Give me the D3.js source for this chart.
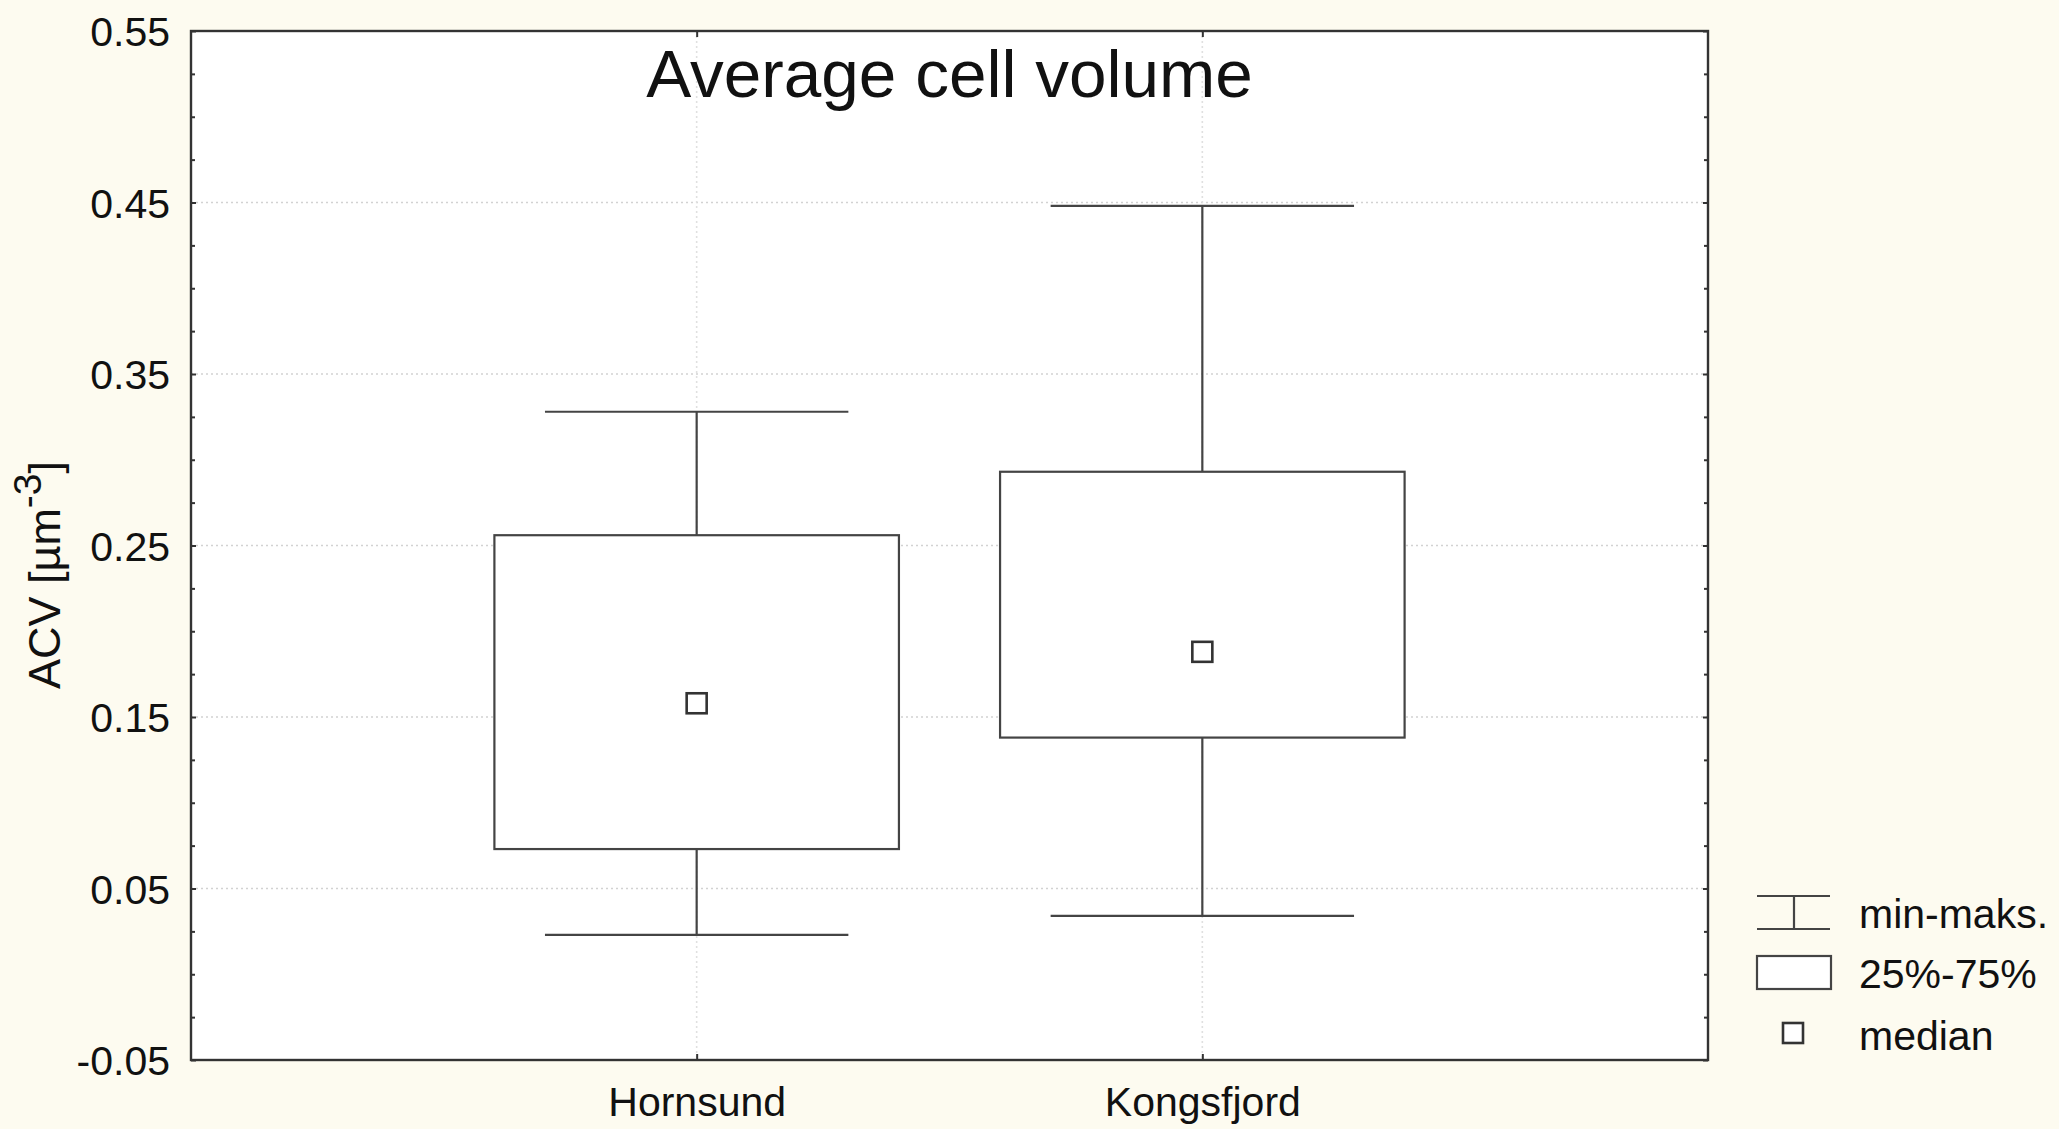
<!DOCTYPE html>
<html>
<head>
<meta charset="utf-8">
<script src="https://cdn.jsdelivr.net/npm/d3@7"></script>
<style>
  html, body { margin: 0; padding: 0; background: #fdfbf0; }
  svg { display: block; }
  text { font-family: "Liberation Sans", Arial, sans-serif; fill: #111; }
</style>
</head>
<body>
<svg id="chart" width="2059" height="1129"></svg>
<script>
// Stations and box-plot statistics (ACV, µm^-3)
const categories = ["Hornsund", "Kongsfjord"];
const minValues    = [0.023, 0.034];
const q1Values     = [0.073, 0.138];
const medianValues = [0.158, 0.188];
const q3Values     = [0.256, 0.293];
const maxValues    = [0.328, 0.448];

const yTickValues = [-0.05, 0.05, 0.15, 0.25, 0.35, 0.45, 0.55];
const legendLabels = ["min-maks.", "25%-75%", "median"];
const titleText = "Average cell volume";

const W = 2059, H = 1129;
const plot = { left: 191, top: 31, right: 1708, bottom: 1060 };

const svg = d3.select("#chart");
svg.append("rect").attr("width", W).attr("height", H).attr("fill", "#fdfbf0");

const y = d3.scaleLinear().domain([-0.05, 0.55]).range([plot.bottom, plot.top]);
const x = d3.scalePoint().domain(categories).range([plot.left, plot.right]).padding(1);
const step = x.step();

const fmt = v => d3.format(".2f")(v).replace("\u2212", "-");

// plot background
svg.append("rect")
  .attr("x", plot.left).attr("y", plot.top)
  .attr("width", plot.right - plot.left).attr("height", plot.bottom - plot.top)
  .attr("fill", "#ffffff");

// dotted grid
const grid = svg.append("g").attr("stroke", "#d2d2d2").attr("stroke-width", 1.6)
  .attr("stroke-dasharray", "2,3");
grid.selectAll("line.h").data(yTickValues.slice(1, -1)).join("line")
  .attr("x1", plot.left).attr("x2", plot.right)
  .attr("y1", d => y(d)).attr("y2", d => y(d));
grid.selectAll("line.v").data(categories).join("line")
  .attr("y1", plot.top).attr("y2", plot.bottom)
  .attr("x1", d => x(d)).attr("x2", d => x(d))
  .attr("stroke", "#e0e0e0");

// box plots
const stats = categories.map((c, i) => ({
  c, min: minValues[i], q1: q1Values[i], med: medianValues[i], q3: q3Values[i], max: maxValues[i]
}));
const boxW = step * 0.8, capW = step * 0.6, medS = 20;
const boxes = svg.append("g").attr("stroke", "#444").attr("stroke-width", 2.2).attr("fill", "none");
const g = boxes.selectAll("g").data(stats).join("g");
g.append("line")
  .attr("x1", d => x(d.c)).attr("x2", d => x(d.c))
  .attr("y1", d => y(d.max)).attr("y2", d => y(d.min));
g.append("line")
  .attr("x1", d => x(d.c) - capW / 2).attr("x2", d => x(d.c) + capW / 2)
  .attr("y1", d => y(d.max)).attr("y2", d => y(d.max));
g.append("line")
  .attr("x1", d => x(d.c) - capW / 2).attr("x2", d => x(d.c) + capW / 2)
  .attr("y1", d => y(d.min)).attr("y2", d => y(d.min));
g.append("rect")
  .attr("x", d => x(d.c) - boxW / 2).attr("width", boxW)
  .attr("y", d => y(d.q3)).attr("height", d => y(d.q1) - y(d.q3))
  .attr("fill", "#ffffff");
g.append("rect")
  .attr("x", d => x(d.c) - medS / 2).attr("width", medS)
  .attr("y", d => y(d.med) - medS / 2).attr("height", medS)
  .attr("fill", "#ffffff").attr("stroke", "#333").attr("stroke-width", 2.6);

// axes
const minorTicks = d3.range(-0.05, 0.5501, 0.025).filter(v => !yTickValues.some(t => Math.abs(t - v) < 1e-6));

const leftAxis = svg.append("g").attr("transform", `translate(${plot.left},0)`)
  .call(d3.axisLeft(y).tickValues(yTickValues).tickFormat(fmt).tickSizeInner(-5).tickSizeOuter(0).tickPadding(21));
svg.append("g").attr("transform", `translate(${plot.left},0)`)
  .call(d3.axisLeft(y).tickValues(minorTicks).tickFormat("").tickSizeInner(-4).tickSizeOuter(0));
svg.append("g").attr("transform", `translate(${plot.right},0)`)
  .call(d3.axisRight(y).tickValues(yTickValues).tickFormat("").tickSizeInner(-5).tickSizeOuter(0));
svg.append("g").attr("transform", `translate(${plot.right},0)`)
  .call(d3.axisRight(y).tickValues(minorTicks).tickFormat("").tickSizeInner(-4).tickSizeOuter(0));
const bottomAxis = svg.append("g").attr("transform", `translate(0,${plot.bottom})`)
  .call(d3.axisBottom(x).tickSizeInner(-6).tickSizeOuter(0).tickPadding(0));
svg.append("g").attr("transform", `translate(0,${plot.top})`)
  .call(d3.axisTop(x).tickFormat("").tickSizeInner(-6).tickSizeOuter(0));

svg.selectAll(".domain").remove();
svg.selectAll(".tick line").attr("stroke", "#333").attr("stroke-width", 2);
leftAxis.selectAll("text").attr("font-size", 41).attr("font-family", "Liberation Sans, Arial, sans-serif")
  .attr("fill", "#111").attr("dy", "0.36em");
bottomAxis.selectAll("text").attr("font-size", 41).attr("font-family", "Liberation Sans, Arial, sans-serif")
  .attr("fill", "#111").attr("y", 56).attr("dy", 0);

// frame
svg.append("rect")
  .attr("x", plot.left).attr("y", plot.top)
  .attr("width", plot.right - plot.left).attr("height", plot.bottom - plot.top)
  .attr("fill", "none").attr("stroke", "#333").attr("stroke-width", 2.4);

// title
svg.append("text")
  .attr("x", (plot.left + plot.right) / 2).attr("y", 97)
  .attr("text-anchor", "middle").attr("font-size", 67.5).attr("fill", "#2a2a2a")
  .text(titleText);

// y-axis label
const yl = svg.append("text")
  .attr("transform", `translate(60,575) rotate(-90)`)
  .attr("text-anchor", "middle").attr("font-size", 45);
yl.append("tspan").text("ACV [µm");
yl.append("tspan").attr("font-size", 39).attr("dy", -19).text("-3");
yl.append("tspan").attr("dy", 19).text("]");

// legend
const lg = svg.append("g").attr("stroke", "#444").attr("stroke-width", 2.2).attr("fill", "none");
lg.append("line").attr("x1", 1757).attr("x2", 1830).attr("y1", 896).attr("y2", 896);
lg.append("line").attr("x1", 1757).attr("x2", 1830).attr("y1", 929).attr("y2", 929);
lg.append("line").attr("x1", 1794).attr("x2", 1794).attr("y1", 896).attr("y2", 929);
lg.append("rect").attr("x", 1757).attr("y", 956).attr("width", 74).attr("height", 33).attr("fill", "#fff");
lg.append("rect").attr("x", 1783).attr("y", 1023).attr("width", 20).attr("height", 20).attr("fill", "#fff")
  .attr("stroke", "#333").attr("stroke-width", 2.6);
svg.selectAll("text.leg").data(legendLabels).join("text")
  .attr("class", "leg")
  .attr("x", 1859).attr("y", (d, i) => [913, 973, 1035][i])
  .attr("dy", "0.36em").attr("font-size", 41)
  .text(d => d);
</script>
</body>
</html>
